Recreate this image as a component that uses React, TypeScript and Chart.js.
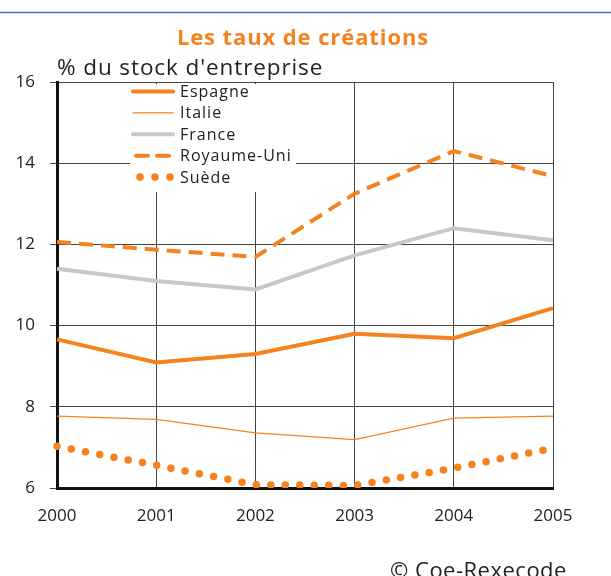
import { useEffect, useRef } from 'react';
import { Chart, registerables } from 'chart.js';

Chart.register(...registerables);

const years = ['2000', '2001', '2002', '2003', '2004', '2005'];
const espagne = [9.66, 9.09, 9.3, 9.8, 9.69, 10.43];
const italie = [7.77, 7.69, 7.36, 7.19, 7.72, 7.77];
const france = [11.4, 11.1, 10.89, 11.73, 12.4, 12.1];
const royaumeUni = [12.06, 11.87, 11.69, 13.25, 14.3, 13.68];
const suede = [7.03, 6.56, 6.08, 6.06, 6.49, 6.98];
const yMin = 6;
const yMax = 16;
const yStep = 2;

const titleText = 'Les taux de créations';
const subtitleText = "% du stock d'entreprise";
const sourceText = '© Coe-Rexecode';

const ORANGE = '#f5821f';
const GREY = '#c8c8c8';
const TEXT = '#222222';
const FONT = '"Open Sans", Lato, sans-serif';

const decorPlugin = {
  id: 'decor',
  afterDraw(chart: any) {
    const ctx = chart.ctx as any;
    const area = chart.chartArea;
    ctx.save();
    ctx.strokeStyle = '#3f74c6';
    ctx.lineWidth = 1.5;
    ctx.beginPath();
    ctx.moveTo(0, 12.5);
    ctx.lineTo(chart.width, 12.5);
    ctx.stroke();

    ctx.fillStyle = ORANGE;
    ctx.font = `bold 22px ${FONT}`;
    ctx.letterSpacing = '0.9px';
    ctx.textAlign = 'center';
    ctx.textBaseline = 'alphabetic';
    ctx.fillText(titleText, 303, 45);

    ctx.fillStyle = TEXT;
    ctx.font = `22.5px ${FONT}`;
    ctx.letterSpacing = '0.9px';
    ctx.textAlign = 'left';
    ctx.fillText(subtitleText, area.left, 75);

    ctx.font = `22px ${FONT}`;
    ctx.letterSpacing = '0.5px';
    ctx.fillText(sourceText, 390, 578);

    const lx0 = 133;
    const lx1 = 173;
    const tx = 180;
    const rowY0 = 91.5;
    const rowH = 21.4;
    ctx.fillStyle = '#ffffff';
    ctx.fillRect(130, area.top + 2, 166, 108);
    ctx.font = `16px ${FONT}`;
    ctx.letterSpacing = '1px';
    ctx.textBaseline = 'middle';
    chart.data.datasets.forEach((ds: any, i: number) => {
      const y = rowY0 + i * rowH;
      ctx.save();
      ctx.strokeStyle = ds.borderColor;
      ctx.fillStyle = ds.borderColor;
      if (ds.legendDots) {
        [140, 155, 170].forEach((cx) => {
          ctx.beginPath();
          ctx.arc(cx, y, 3.8, 0, Math.PI * 2);
          ctx.fill();
        });
      } else {
        const dashed = ds.borderDash && ds.borderDash.length;
        ctx.lineWidth = ds.borderWidth;
        ctx.lineCap = 'round';
        ctx.setLineDash(dashed ? [12, 9] : []);
        ctx.beginPath();
        ctx.moveTo(lx0 + (dashed ? 3 : 0), y);
        ctx.lineTo(lx1, y);
        ctx.stroke();
      }
      ctx.restore();
      ctx.fillStyle = TEXT;
      ctx.fillText(ds.label, tx, y + 1);
    });
    ctx.restore();
  },
};

export default function App() {
  const ref = useRef<HTMLCanvasElement | null>(null);
  useEffect(() => {
    if (!ref.current) return;
    const chart = new Chart(ref.current, {
      type: 'line',
      data: {
        labels: years,
        datasets: [
          { label: 'Espagne', data: espagne, borderColor: ORANGE, borderWidth: 4, pointRadius: 0, tension: 0 },
          { label: 'Italie', data: italie, borderColor: ORANGE, borderWidth: 1.2, pointRadius: 0, tension: 0 },
          { label: 'France', data: france, borderColor: GREY, borderWidth: 4, pointRadius: 0, tension: 0 },
          {
            label: 'Royaume-Uni', data: royaumeUni, borderColor: ORANGE, borderWidth: 4, pointRadius: 0, tension: 0,
            borderDash: [14, 8],
          },
          {
            label: 'Suède', data: suede, borderColor: ORANGE, borderWidth: 7.5, pointRadius: 0, tension: 0,
            borderDash: [0, 14.5], borderCapStyle: 'round', legendDots: true,
          } as any,
        ],
      },
      options: {
        responsive: false,
        animation: false,
        devicePixelRatio: 1,
        layout: { padding: { top: 82, right: 58, bottom: 48, left: 0 } },
        plugins: { legend: { display: false }, tooltip: { enabled: false }, title: { display: false } },
        scales: {
          x: {
            type: 'category',
            offset: false,
            grid: { color: '#444', lineWidth: 1, drawTicks: false },
            border: { display: true, color: '#111', width: 3 },
            ticks: { color: TEXT, font: { family: FONT, size: 17 }, padding: 18, maxRotation: 0 },
            afterFit: (s: any) => { s.height = 40; },
          },
          y: {
            min: yMin,
            max: yMax,
            grid: { color: '#444', lineWidth: 1, drawTicks: true, tickLength: 7 },
            border: { display: true, color: '#111', width: 3 },
            ticks: { stepSize: yStep, color: TEXT, font: { family: FONT, size: 17 }, padding: 15 },
            afterFit: (s: any) => { s.width = 57; },
          },
        },
      },
      plugins: [decorPlugin],
    });
    return () => chart.destroy();
  }, []);
  return (
    <div style={{ position: 'fixed', left: 0, top: 0, width: 611, height: 576, background: '#fff' }}>
      <canvas ref={ref} width={611} height={576} />
    </div>
  );
}
